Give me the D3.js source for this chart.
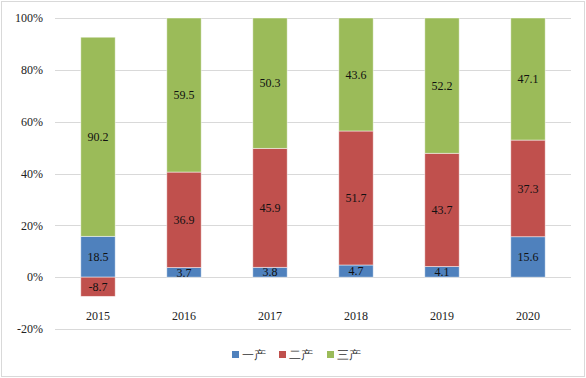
<!DOCTYPE html>
<html><head><meta charset="utf-8">
<script src="https://cdn.jsdelivr.net/npm/d3@7"></script>
<style>body{margin:0;background:#fff}svg{display:block}text{font-family:"Liberation Serif","Times New Roman",serif}</style>
</head><body><svg id="c" width="586" height="378"></svg>
<script>
const years = ["2015","2016","2017","2018","2019","2020"];
const primary = [18.5, 3.7, 3.8, 4.7, 4.1, 15.6];
const secondary = [-8.7, 36.9, 45.9, 51.7, 43.7, 37.3];
const tertiary = [90.2, 59.5, 50.3, 43.6, 52.2, 47.1];
const seriesNames = ["一产","二产","三产"];
const colors = ["#4F81BD","#C0504D","#9BBB59"];
const yTicks = [-20,0,20,40,60,80,100];

const svg = d3.select("#c");
svg.append("rect").attr("x",1.5).attr("y",1.5).attr("width",583).attr("height",375)
  .attr("fill","#fff").attr("stroke","#d9d9d9");

const x = d3.scaleBand().domain(years).range([55,571]).paddingInner(0.6).paddingOuter(0.3);
const y = d3.scaleLinear().domain([-20,100]).range([329,18]);

const g = svg.append("g");
g.selectAll("line.grid").data(yTicks).join("line")
  .attr("x1",55).attr("x2",571).attr("y1",d=>Math.round(y(d))+0.5).attr("y2",d=>Math.round(y(d))+0.5)
  .attr("stroke","#d9d9d9").attr("stroke-width",1);
g.selectAll("text.yt").data(yTicks).join("text")
  .attr("x",43).attr("y",d=>y(d)).attr("dy","0.35em").attr("text-anchor","end")
  .attr("font-size",12).attr("fill","#222").text(d=>d+"%");

const series=[primary,secondary,tertiary];
years.forEach((yr,i)=>{
  const vals = series.map(s=>s[i]);
  const tot = d3.sum(vals,v=>Math.abs(v));
  let pos=0, neg=0;
  vals.forEach((v,k)=>{
    const p = v/tot*100;
    let y0,y1;
    if(p>=0){y0=pos;y1=pos+p;pos=y1;} else {y0=neg;y1=neg+p;neg=y1;}
    const top=y(Math.max(y0,y1)), bot=y(Math.min(y0,y1));
    g.append("rect").attr("x",x(yr)).attr("width",x.bandwidth())
      .attr("y",top).attr("height",bot-top).attr("fill",colors[k])
      .attr("stroke","#fff").attr("stroke-opacity",0.6).attr("stroke-width",0.8);
    g.append("text").attr("x",x(yr)+x.bandwidth()/2).attr("y",(top+bot)/2).attr("dy","0.35em")
      .attr("text-anchor","middle").attr("font-size",12).attr("fill","#111").text(v.toFixed(1));
  });
});

g.selectAll("text.xt").data(years).join("text")
  .attr("x",d=>x(d)+x.bandwidth()/2).attr("y",316).attr("dy","0.35em").attr("text-anchor","middle")
  .attr("font-size",12).attr("fill","#222").text(d=>d);

const lg = svg.append("g");
const lx=[232,279,327];
seriesNames.forEach((n,k)=>{
  lg.append("rect").attr("x",lx[k]).attr("y",351).attr("width",7).attr("height",7).attr("fill",colors[k]);
  lg.append("text").attr("x",lx[k]+10).attr("y",355).attr("dy","0.35em").attr("font-size",12)
    .attr("fill","#333").attr("font-family","'Noto Sans CJK SC',sans-serif").text(n);
});
</script></body></html>
